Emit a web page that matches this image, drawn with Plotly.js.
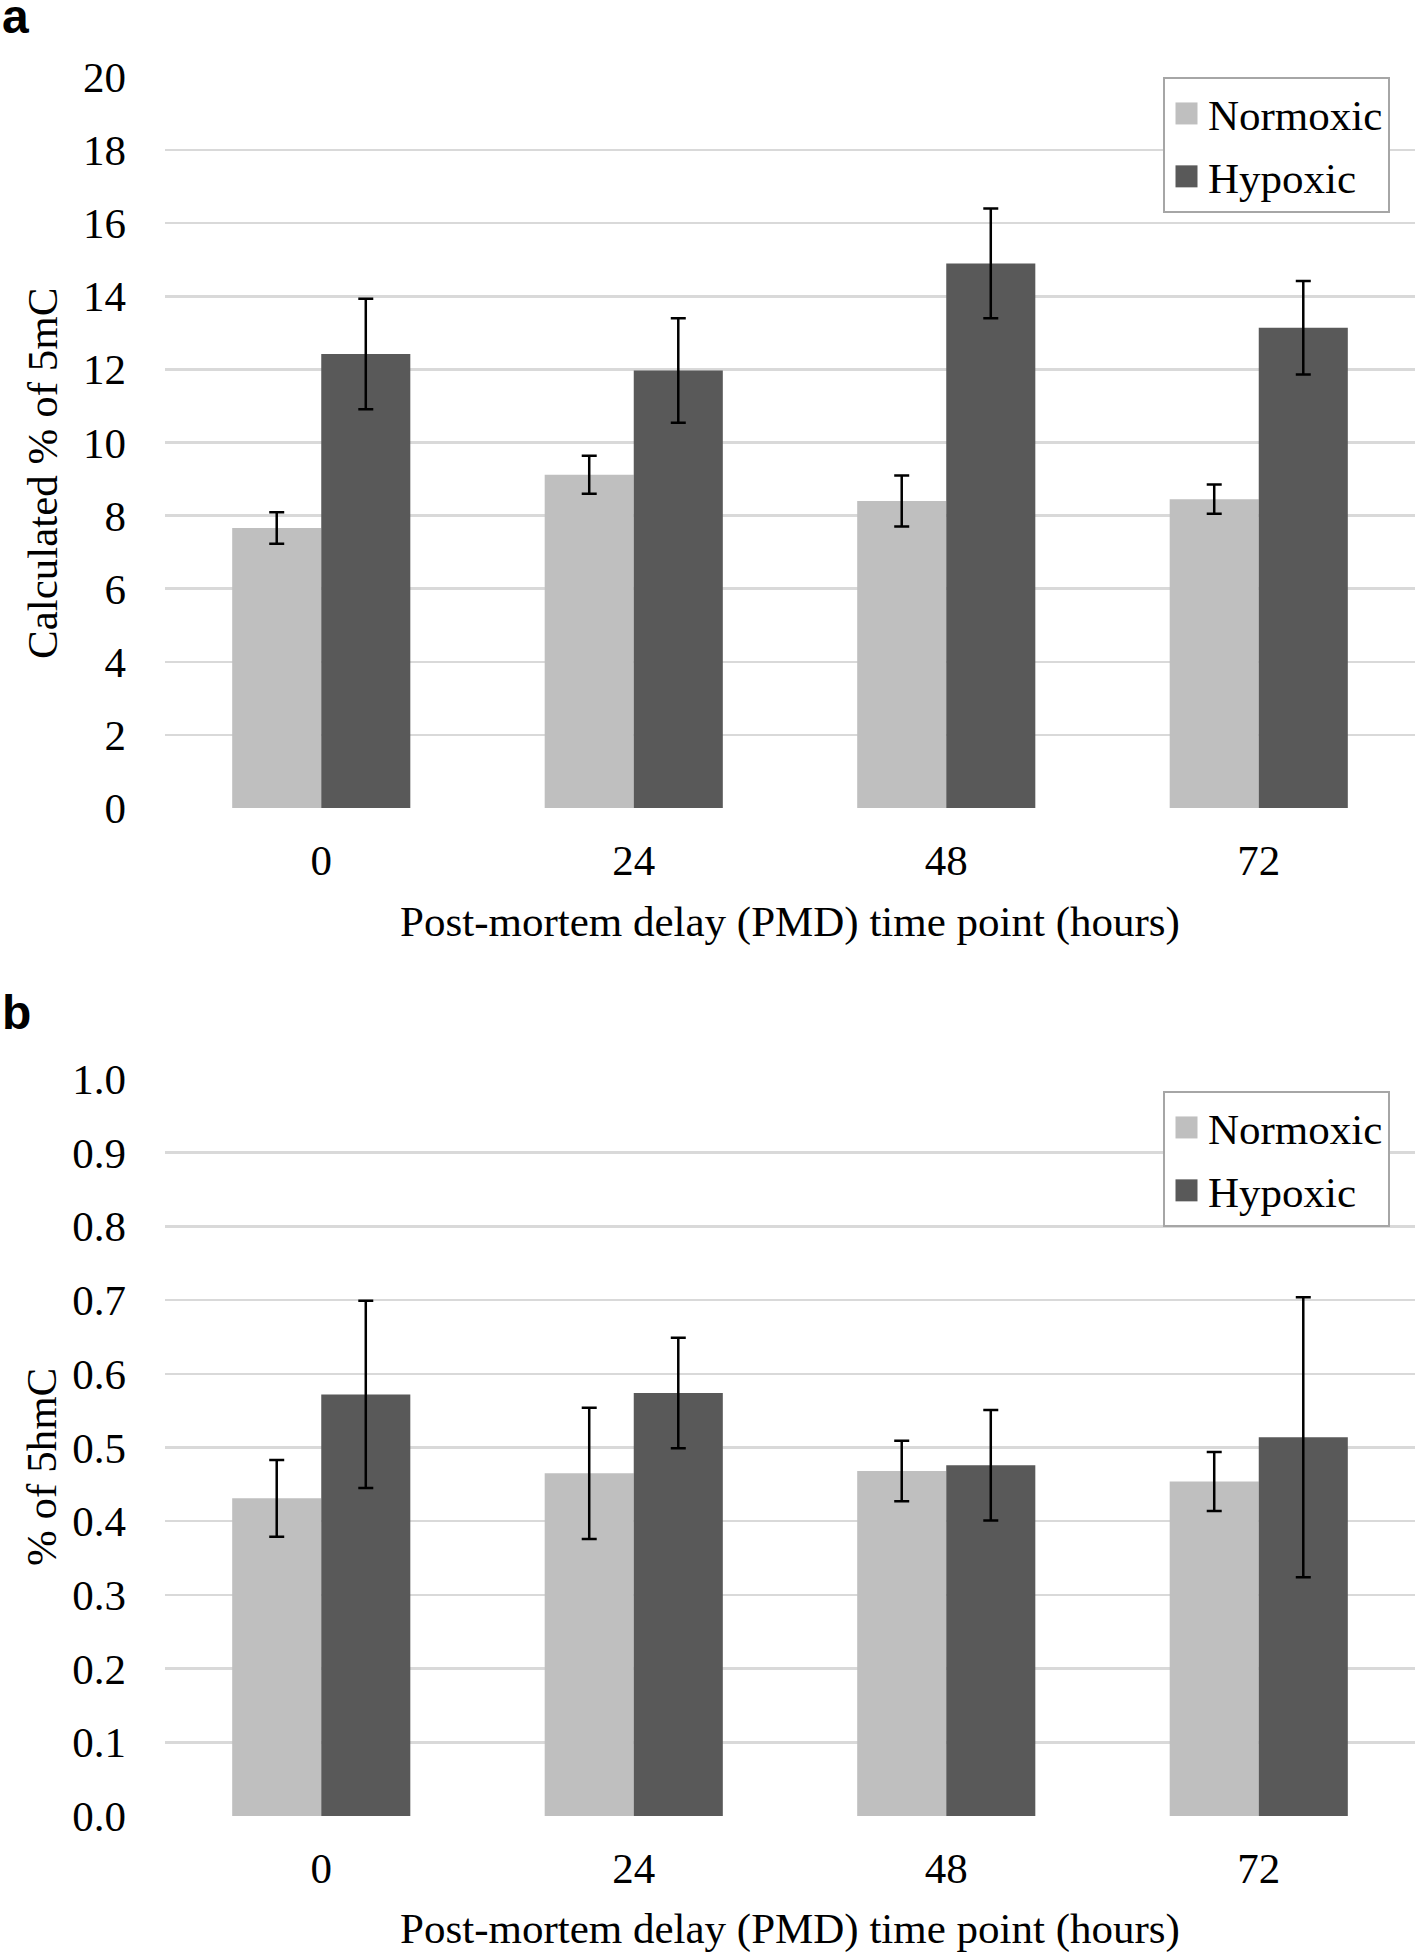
<!DOCTYPE html>
<html>
<head>
<meta charset="utf-8">
<script src="https://cdn.plot.ly/plotly-3.0.1.min.js"></script>
<style>html,body{margin:0;padding:0;background:#fff;}#chart{width:1418px;height:1953px;}</style>
</head>
<body>
<div id="chart"></div>
<script>
// ---- data ----
const categories = ['0', '24', '48', '72'];
const seriesNames = ['Normoxic', 'Hypoxic'];

// panel a: calculated % of 5mC
const mC_normoxic = [7.66, 9.12, 8.40, 8.45];
const mC_normoxic_err = [0.43, 0.52, 0.70, 0.40];
const mC_hypoxic = [12.42, 11.97, 14.90, 13.14];
const mC_hypoxic_err = [1.51, 1.43, 1.50, 1.28];

// panel b: % of 5hmC
const hmC_normoxic = [0.431, 0.465, 0.468, 0.454];
const hmC_normoxic_err = [0.052, 0.089, 0.041, 0.040];
const hmC_hypoxic = [0.572, 0.574, 0.476, 0.514];
const hmC_hypoxic_err = [0.127, 0.075, 0.075, 0.190];

const yTicksA = [0, 2, 4, 6, 8, 10, 12, 14, 16, 18, 20];
const yTicksB = [0, 0.1, 0.2, 0.3, 0.4, 0.5, 0.6, 0.7, 0.8, 0.9, 1.0];

// ---- style ----
const colors = ['#bfbfbf', '#595959'];
const serif = 'Liberation Serif, Times New Roman, serif';

function barTrace(name, y, err, color, xa, ya, legend, group) {
  return {
    type: 'bar', name: name, x: categories, y: y,
    xaxis: xa, yaxis: ya, legend: legend, legendgroup: group,
    marker: {color: color, line: {width: 0}},
    error_y: {type: 'data', array: err, visible: true, color: '#000000', thickness: 2.5, width: 7.5},
    hoverinfo: 'skip'
  };
}

const data = [
  barTrace(seriesNames[0], mC_normoxic, mC_normoxic_err, colors[0], 'x', 'y', 'legend', 'g1'),
  barTrace(seriesNames[1], mC_hypoxic, mC_hypoxic_err, colors[1], 'x', 'y', 'legend', 'g2'),
  barTrace(seriesNames[0], hmC_normoxic, hmC_normoxic_err, colors[0], 'x2', 'y2', 'legend2', 'h1'),
  barTrace(seriesNames[1], hmC_hypoxic, hmC_hypoxic_err, colors[1], 'x2', 'y2', 'legend2', 'h2')
];

const W = 1418, H = 1953;
const mL = 165, mR = 3, mT = 77, mB = 137;
const plotH = H - mT - mB; // paper height
function py(pix) { return (H - mB - pix) / plotH; } // pixel y -> paper y
function px(pix) { return (pix - mL) / (W - mL - mR); }

const tickFont = {family: serif, size: 43, color: '#000'};
const titleFont = {family: serif, size: 43, color: '#000'};

function xAxis(anchor) {
  return {
    type: 'category', anchor: anchor, showgrid: false, showline: false, zeroline: false,
    ticks: '', tickfont: tickFont, ticklabelstandoff: 23,
    title: {text: 'Post-mortem delay (PMD) time point (hours)', font: titleFont, standoff: 22},
    fixedrange: true
  };
}
function yAxis(anchor, dom, range, ticks, fmt) {
  return {
    anchor: anchor, domain: dom, range: range, tickvals: ticks, tickformat: fmt,
    showgrid: true, gridcolor: '#d9d9d9', gridwidth: 2.5, zeroline: false, showline: false,
    ticks: '', tickfont: tickFont, ticklabelstandoff: 38, fixedrange: true
  };
}

const legendCommon = {
  xanchor: 'right', yanchor: 'top', x: px(1390),
  bgcolor: '#ffffff', bordercolor: '#a6a6a6', borderwidth: 2,
  font: {family: serif, size: 43, color: '#000'},
  itemwidth: 33, traceorder: 'grouped', tracegroupgap: 4
};

const layout = {
  width: W, height: H,
  margin: {l: mL, r: mR, t: mT, b: mB, pad: 0},
  paper_bgcolor: '#ffffff', plot_bgcolor: '#ffffff',
  barmode: 'group', bargap: 0.43, bargroupgap: 0,
  showlegend: true,
  xaxis: xAxis('y'),
  yaxis: yAxis('x', [py(808), 1], [0, 20], yTicksA, 'd'),
  xaxis2: xAxis('y2'),
  yaxis2: yAxis('x2', [0, py(1079)], [0, 1], yTicksB, '.1f'),
  legend: Object.assign({}, legendCommon, {y: py(77)}),
  legend2: Object.assign({}, legendCommon, {y: py(1091)}),
  annotations: [
    {text: 'Calculated % of 5mC', textangle: -90, xref: 'paper', yref: 'paper',
     x: px(43), y: py(474), xanchor: 'center', yanchor: 'middle', showarrow: false, font: titleFont},
    {text: '% of 5hmC', textangle: -90, xref: 'paper', yref: 'paper',
     x: px(41), y: py(1467), xanchor: 'center', yanchor: 'middle', showarrow: false, font: titleFont},
    {text: '<b>a</b>', xref: 'paper', yref: 'paper', x: px(0), y: py(0), xanchor: 'left', yanchor: 'top',
     yshift: 12, showarrow: false, font: {family: 'Liberation Sans, Arial, sans-serif', size: 48, color: '#000'}},
    {text: '<b>b</b>', xref: 'paper', yref: 'paper', x: px(0), y: py(1013), xanchor: 'left', yanchor: 'middle',
     showarrow: false, font: {family: 'Liberation Sans, Arial, sans-serif', size: 48, color: '#000'}}
  ]
};

Plotly.newPlot('chart', data, layout, {staticPlot: true, displayModeBar: false}).then(function () {
  // enlarge legend swatches to match reference size
  document.querySelectorAll('.legendpoints path').forEach(function (p) {
    p.setAttribute('d', 'M11,11H-11V-11H11Z');
  });
});
</script>
</body>
</html>
